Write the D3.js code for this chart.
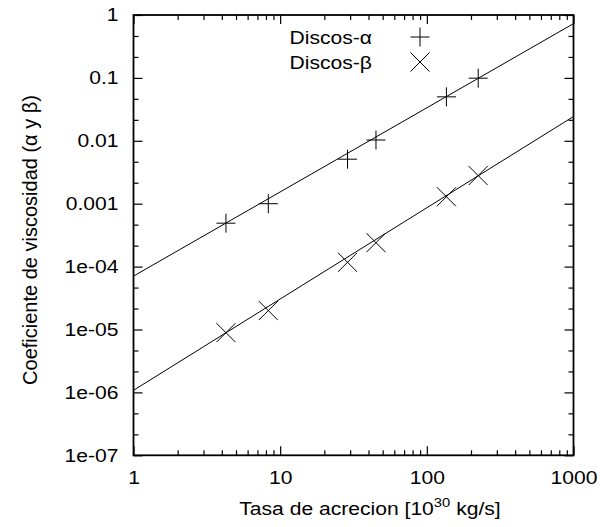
<!DOCTYPE html>
<html>
<head>
<meta charset="utf-8">
<script src="https://cdn.jsdelivr.net/npm/d3@7"></script>
<style>
  html, body { margin: 0; padding: 0; background: #fff; }
  svg { display: block; font-family: "Liberation Sans", Arial, Helvetica, sans-serif; }
  .axis path { display: none; }
  .axis line { stroke: #000; stroke-width: 1.2; }
  .axis text { font-size: 18.5px; fill: #000; font-family: "Liberation Sans", Arial, sans-serif; }
</style>
</head>
<body>
<svg id="chart" width="600" height="527"></svg>
<script>
// Accretion rate [10^30 kg/s] for each disc model
const rates = [4.27, 8.3, 28.8, 45, 136, 224];
// Viscosity coefficients
const alphaValues = [4.9e-4, 1.0e-3, 5.1e-3, 0.0103, 0.050, 0.099];
const betaValues = [8.9e-6, 2.0e-5, 1.17e-4, 2.4e-4, 1.29e-3, 2.8e-3];
// Power-law fits  y = a * x^b  ->  [a, b]
const alphaFit = [7.06e-5, 1.338];
const betaFit = [1.08e-6, 1.451];
// Axis ticks
const xMajorTicks = [1, 10, 100, 1000];
const xTickLabels = ["1", "10", "100", "1000"];
const yMajorTicks = [1e-7, 1e-6, 1e-5, 1e-4, 1e-3, 1e-2, 1e-1, 1];
const yTickLabels = ["1e-07", "1e-06", "1e-05", "1e-04", "0.001", "0.01", "0.1", "1"];
const seriesNames = ["Discos-\u03b1", "Discos-\u03b2"];

const svg = d3.select("#chart");
const pLeft = 133.5, pRight = 573.5, pTop = 15, pBottom = 455.3;
const sx = 1.14; // horizontal widening of the text glyphs

const x = d3.scaleLog().domain([1, 1000]).range([pLeft, pRight]);
const y = d3.scaleLog().domain([1e-7, 1]).range([pBottom, pTop]);

// minor ticks: 2..9 per decade on x, thirds of a decade on y
const xMinor = [];
for (let d = 1; d < 1000; d *= 10) for (let k = 2; k <= 9; k++) xMinor.push(d * k);
const yMinor = [];
for (let e = -7; e < 0; e++) { yMinor.push(Math.pow(10, e + 1 / 3)); yMinor.push(Math.pow(10, e + 2 / 3)); }

const fmtX = d => xTickLabels[xMajorTicks.indexOf(d)];
const fmtY = d => yTickLabels[yMajorTicks.findIndex(v => Math.abs(Math.log10(v) - Math.log10(d)) < 1e-6)];

// widen tick labels around their own anchor point
function widenLabels(g) {
  g.selectAll(".tick text").each(function () {
    const t = d3.select(this);
    const tx = +t.attr("x") || 0, ty = +t.attr("y") || 0;
    t.attr("x", 0).attr("y", 0).attr("transform", `translate(${tx},${ty}) scale(${sx},1)`);
  });
}

// bottom axis
svg.append("g").attr("class", "axis").attr("transform", `translate(0,${pBottom})`)
  .call(d3.axisBottom(x).tickValues(xMajorTicks).tickSize(-9).tickPadding(16).tickFormat(fmtX))
  .call(widenLabels);
svg.append("g").attr("class", "axis").attr("transform", `translate(0,${pBottom})`)
  .call(d3.axisBottom(x).tickValues(xMinor).tickSize(-5).tickFormat(""));
// top axis (mirror)
svg.append("g").attr("class", "axis").attr("transform", `translate(0,${pTop})`)
  .call(d3.axisTop(x).tickValues(xMajorTicks).tickSize(-9).tickFormat(""));
svg.append("g").attr("class", "axis").attr("transform", `translate(0,${pTop})`)
  .call(d3.axisTop(x).tickValues(xMinor).tickSize(-5).tickFormat(""));
// left axis
svg.append("g").attr("class", "axis").attr("transform", `translate(${pLeft},0)`)
  .call(d3.axisLeft(y).tickValues(yMajorTicks).tickSize(-9).tickPadding(15).tickFormat(fmtY))
  .call(widenLabels);
svg.append("g").attr("class", "axis").attr("transform", `translate(${pLeft},0)`)
  .call(d3.axisLeft(y).tickValues(yMinor).tickSize(-5).tickFormat(""));
// right axis (mirror)
svg.append("g").attr("class", "axis").attr("transform", `translate(${pRight},0)`)
  .call(d3.axisRight(y).tickValues(yMajorTicks).tickSize(-9).tickFormat(""));
svg.append("g").attr("class", "axis").attr("transform", `translate(${pRight},0)`)
  .call(d3.axisRight(y).tickValues(yMinor).tickSize(-5).tickFormat(""));

// plot frame
svg.append("rect").attr("x", pLeft).attr("y", pTop)
  .attr("width", pRight - pLeft).attr("height", pBottom - pTop)
  .attr("fill", "none").attr("stroke", "#000").attr("stroke-width", 1.8);

// fit lines
svg.append("clipPath").attr("id", "plotclip").append("rect")
  .attr("x", pLeft).attr("y", pTop).attr("width", pRight - pLeft).attr("height", pBottom - pTop);
const fitLine = d3.line().x(d => x(d[0])).y(d => y(d[1]));
const xs = [1, 1000];
[alphaFit, betaFit].forEach(f => {
  svg.append("path")
    .datum(xs.map(v => [v, f[0] * Math.pow(v, f[1])]))
    .attr("d", fitLine)
    .attr("clip-path", "url(#plotclip)")
    .attr("fill", "none").attr("stroke", "#000").attr("stroke-width", 1);
});

// markers
const r = 9.5;
const plusPath = (cx, cy) => `M${cx - r},${cy}H${cx + r}M${cx},${cy - r}V${cy + r}`;
const crossPath = (cx, cy) => `M${cx - r},${cy - r}L${cx + r},${cy + r}M${cx - r},${cy + r}L${cx + r},${cy - r}`;

svg.append("g").selectAll("path").data(rates.map((v, i) => [v, alphaValues[i]])).join("path")
  .attr("d", d => plusPath(x(d[0]), y(d[1])))
  .attr("stroke", "#000").attr("stroke-width", 1).attr("fill", "none");
svg.append("g").selectAll("path").data(rates.map((v, i) => [v, betaValues[i]])).join("path")
  .attr("d", d => crossPath(x(d[0]), y(d[1])))
  .attr("stroke", "#000").attr("stroke-width", 1).attr("fill", "none");

// legend
const legend = svg.append("g");
[0, 1].forEach(i => {
  const ly = 37 + i * 25;
  legend.append("text").attr("transform", `translate(372,${ly + 6.5}) scale(${sx},1)`)
    .attr("text-anchor", "end").attr("font-size", 18.5).text(seriesNames[i]);
  legend.append("path").attr("d", i === 0 ? plusPath(420, ly) : crossPath(420, ly))
    .attr("stroke", "#000").attr("stroke-width", 1).attr("fill", "none");
});

// axis titles
const xt = svg.append("text").attr("transform", `translate(370,515) scale(${sx},1)`)
  .attr("text-anchor", "middle").attr("font-size", 18.5);
xt.append("tspan").text("Tasa de acrecion [10");
xt.append("tspan").attr("font-size", 13).attr("dy", -8).text("30");
xt.append("tspan").attr("dy", 8).text(" kg/s]");

svg.append("text").attr("transform", "translate(37,240) rotate(-90)")
  .attr("text-anchor", "middle").attr("font-size", 20)
  .text("Coeficiente de viscosidad (\u03b1 y \u03b2)");
</script>
</body>
</html>
